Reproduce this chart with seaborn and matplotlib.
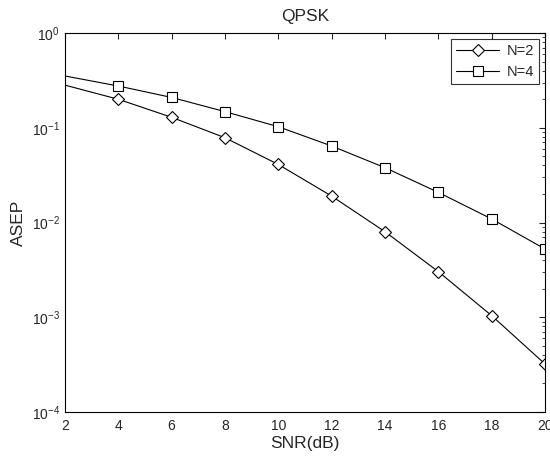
import numpy as np
import matplotlib
matplotlib.use("Agg")
import matplotlib.pyplot as plt
import seaborn as sns
from matplotlib.ticker import LogLocator, NullFormatter

# values
snr = [2, 4, 6, 8, 10, 12, 14, 16, 18, 20]
asep_n2 = [0.282, 0.20, 0.129, 0.0785, 0.041, 0.019, 0.0080, 0.00303, 0.00104, 0.000321]
asep_n4 = [0.352, 0.276, 0.209, 0.148, 0.1026, 0.0642, 0.0379, 0.0208, 0.0109, 0.00525]
labels = ["N=2", "N=4"]

sns.set_style("white")
plt.rcParams['font.family'] = ['Liberation Sans', 'DejaVu Sans']
plt.rcParams['mathtext.fontset'] = 'custom'
plt.rcParams['mathtext.rm'] = 'Liberation Sans'

fig = plt.figure(figsize=(5.5, 4.58), dpi=100)
ax = fig.add_axes([0.118, 0.1004, 0.873, 0.8275])

# no marker at x=2, like the original
sns.lineplot(x=snr, y=asep_n2, ax=ax, color='black', lw=0.8, marker='D',
             markersize=6, markerfacecolor='white', markeredgecolor='black',
             markeredgewidth=0.8, markevery=list(range(1, 10)), label=labels[0])
sns.lineplot(x=snr, y=asep_n4, ax=ax, color='black', lw=0.8, marker='s',
             markersize=6.5, markerfacecolor='white', markeredgecolor='black',
             markeredgewidth=0.8, markevery=list(range(1, 10)), label=labels[1])

ax.set_yscale('log')
ax.set_xlim(2, 20)
ax.set_ylim(1e-4, 1)
ax.set_xticks(range(2, 21, 2))
ax.yaxis.set_major_locator(LogLocator(base=10, numticks=10))
ax.yaxis.set_minor_locator(LogLocator(base=10, subs=np.arange(2, 10), numticks=10))
ax.yaxis.set_minor_formatter(NullFormatter())

ax.tick_params(which='both', direction='in', top=True, right=True, labelsize=10)
ax.tick_params(axis='x', pad=5)
ax.tick_params(which='major', length=4, width=0.8)
ax.tick_params(which='minor', length=2, width=0.6)
for s in ax.spines.values():
    s.set_color('black')
    s.set_linewidth(0.8)

ax.set_title('QPSK', fontsize=12.5, pad=9)
ax.set_xlabel('SNR(dB)', fontsize=12.5, labelpad=2)
ax.set_ylabel('ASEP', fontsize=12.5, labelpad=4)

leg = ax.legend(loc='upper right', fontsize=10.5, frameon=True, fancybox=False,
                edgecolor='black', handlelength=3.0, borderaxespad=0.4,
                labelspacing=0.5, handletextpad=0.5, borderpad=0.35)
leg.get_frame().set_linewidth(0.8)

fig.savefig('out.png', dpi=100)
